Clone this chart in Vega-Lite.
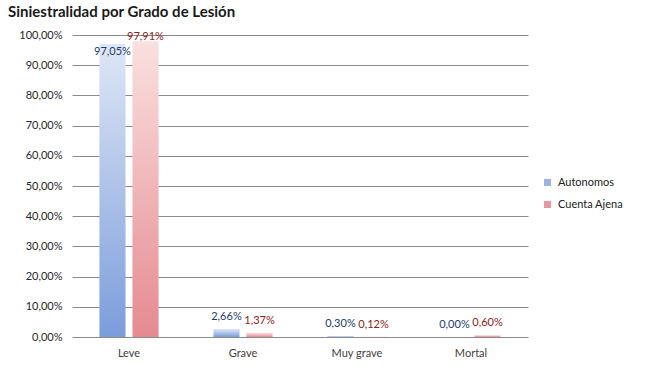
{
  "$schema": "https://vega.github.io/schema/vega-lite/v6.json",
  "width": 456,
  "height": 302,
  "autosize": {"type": "none"},
  "padding": {"left": 72, "top": 35, "right": 122, "bottom": 43},
  "background": "white",
  "title": {
    "text": "Siniestralidad por Grado de Lesión",
    "anchor": "start",
    "frame": "group",
    "dx": -64,
    "offset": 9,
    "fontSize": 15,
    "fontWeight": "bold",
    "font": "Lato",
    "color": "#1a1a1a"
  },
  "config": {
    "view": {"stroke": null},
    "font": "Lato",
    "locale": {"number": {"decimal": ",", "thousands": ".", "grouping": [3], "currency": ["", " €"]}}
  },
  "data": {
    "values": [
      {"Grado": "Leve", "Serie": "Autonomos", "Valor": 0.9705},
      {"Grado": "Leve", "Serie": "Cuenta Ajena", "Valor": 0.9791},
      {"Grado": "Grave", "Serie": "Autonomos", "Valor": 0.0266},
      {"Grado": "Grave", "Serie": "Cuenta Ajena", "Valor": 0.0137},
      {"Grado": "Muy grave", "Serie": "Autonomos", "Valor": 0.0030},
      {"Grado": "Muy grave", "Serie": "Cuenta Ajena", "Valor": 0.0012},
      {"Grado": "Mortal", "Serie": "Autonomos", "Valor": 0.0000},
      {"Grado": "Mortal", "Serie": "Cuenta Ajena", "Valor": 0.0060}
    ]
  },
  "encoding": {
    "x": {
      "field": "Grado",
      "type": "nominal",
      "sort": ["Leve", "Grave", "Muy grave", "Mortal"],
      "scale": {"paddingInner": 0, "paddingOuter": 0},
      "axis": {
        "title": null,
        "labelAngle": 0,
        "domain": false,
        "ticks": false,
        "labelPadding": 10,
        "labelFontSize": 11,
        "labelColor": "#404040"
      }
    },
    "xOffset": {
      "field": "Serie",
      "type": "nominal",
      "scale": {"domain": ["Autonomos", "Cuenta Ajena"], "paddingInner": 0.21, "paddingOuter": 0.83}
    },
    "y": {
      "field": "Valor",
      "type": "quantitative",
      "scale": {"domain": [0, 1], "nice": false},
      "axis": {
        "title": null,
        "format": ".2%",
        "values": [0, 0.1, 0.2, 0.3, 0.4, 0.5, 0.6, 0.7, 0.8, 0.9, 1],
        "domain": false,
        "ticks": false,
        "labelPadding": 10,
        "labelFontSize": 11,
        "labelColor": "#262626",
        "gridColor": "#8a8a8a",
        "gridWidth": 1
      }
    }
  },
  "layer": [
    {
      "transform": [{"filter": "datum.Serie == 'Autonomos'"}],
      "mark": {
        "type": "bar",
        "fill": {"gradient": "linear", "x1": 0, "y1": 0, "x2": 0, "y2": 1,
          "stops": [{"offset": 0, "color": "#dfe7f5"}, {"offset": 1, "color": "#7b9ddc"}]}
      }
    },
    {
      "transform": [{"filter": "datum.Serie == 'Cuenta Ajena'"}],
      "mark": {
        "type": "bar",
        "fill": {"gradient": "linear", "x1": 0, "y1": 0, "x2": 0, "y2": 1,
          "stops": [{"offset": 0, "color": "#fae0e0"}, {"offset": 1, "color": "#e58a90"}]}
      }
    },
    {
      "mark": {"type": "bar"},
      "encoding": {
        "y": {"datum": 0, "type": "quantitative"},
        "color": {
          "field": "Serie",
          "type": "nominal",
          "scale": {"domain": ["Autonomos", "Cuenta Ajena"], "range": ["#9fb4db", "#e39aa2"]},
          "legend": {
            "title": null,
            "orient": "none",
            "legendX": 470,
            "legendY": 142,
            "symbolType": "square",
            "symbolSize": 50,
            "symbolStrokeWidth": 0,
            "labelFontSize": 11,
            "labelColor": "#222222",
            "labelOffset": 5,
            "rowPadding": 10
          }
        }
      }
    },
    {
      "mark": {
        "type": "text",
        "baseline": "middle",
        "fontSize": 11,
        "dy": {"expr": "datum.Grado == 'Leve' ? (datum.Serie == 'Autonomos' ? 8 : -4) : -12"}
      },
      "encoding": {
        "text": {"field": "Valor", "type": "quantitative", "format": ".2%"},
        "color": {
          "condition": {"test": "datum.Serie == 'Autonomos'", "value": "#1d3b6b"},
          "value": "#8a1c22"
        }
      }
    }
  ]
}
